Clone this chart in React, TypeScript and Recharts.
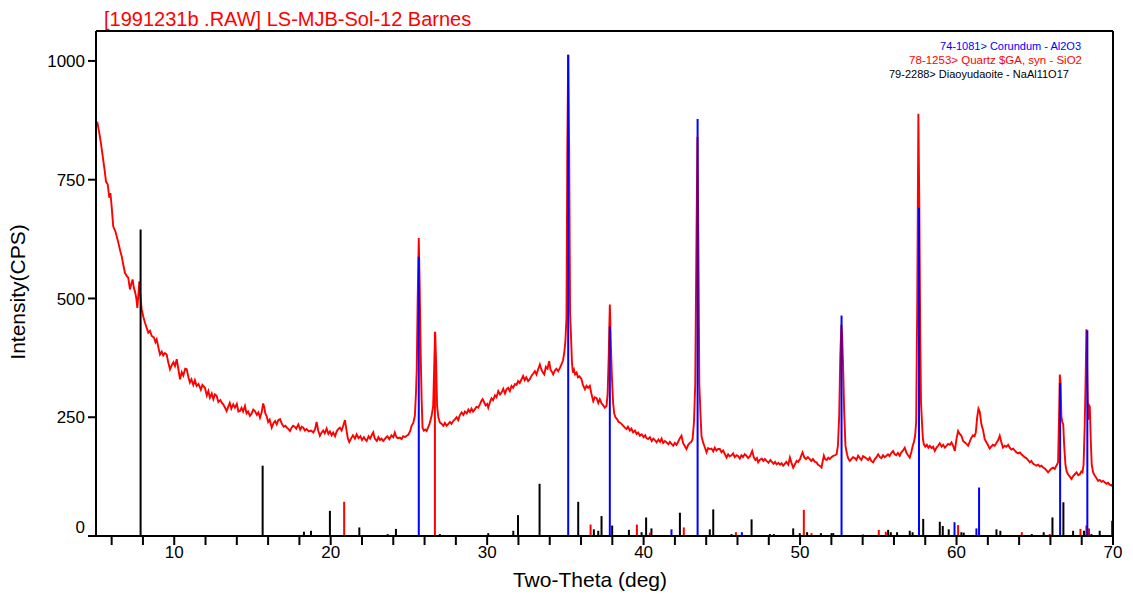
import { LineChart, Line, XAxis, YAxis, ReferenceLine } from 'recharts';

// measured scan: [two-theta (deg), intensity (CPS)]
const scanPoints: [number, number][] = [
  [5.0, 862], [5.1, 868], [5.2, 850], [5.3, 830], [5.43, 799], [5.55, 770], [5.64, 746], [5.75, 740],
  [5.85, 712], [5.92, 722], [6.0, 694], [6.1, 652], [6.25, 640], [6.43, 617], [6.55, 600], [6.64, 589],
  [6.75, 570], [6.85, 554], [6.95, 548], [7.06, 544], [7.17, 519], [7.25, 530], [7.34, 540], [7.42, 522],
  [7.49, 515], [7.58, 500], [7.64, 480], [7.7, 505], [7.77, 536], [7.85, 500], [7.92, 477], [8.02, 462],
  [8.13, 449], [8.22, 440], [8.34, 428], [8.45, 432], [8.56, 421], [8.7, 418], [8.8, 408], [8.88, 414],
  [9.0, 395], [9.09, 382], [9.2, 388], [9.3, 380], [9.4, 385], [9.52, 382], [9.62, 365], [9.73, 351],
  [9.85, 360], [9.95, 366], [10.05, 358], [10.16, 372], [10.27, 350], [10.37, 330], [10.48, 345], [10.58, 338],
  [10.7, 352], [10.8, 351], [10.9, 335], [11.0, 323], [11.1, 330], [11.22, 318], [11.32, 328], [11.43, 316],
  [11.55, 320], [11.7, 308], [11.8, 318], [11.96, 312], [12.08, 296], [12.18, 305], [12.28, 291], [12.4, 300],
  [12.5, 288], [12.6, 298], [12.71, 295], [12.82, 282], [12.95, 286], [13.05, 280], [13.13, 277], [13.25, 270],
  [13.35, 263], [13.45, 272], [13.55, 280], [13.65, 268], [13.77, 277], [13.88, 270], [14.0, 278], [14.1, 262],
  [14.2, 263], [14.3, 270], [14.4, 262], [14.52, 274], [14.62, 258], [14.72, 262], [14.84, 253], [14.95, 258],
  [15.05, 266], [15.16, 263], [15.28, 255], [15.38, 260], [15.48, 249], [15.6, 262], [15.68, 279], [15.75, 272],
  [15.82, 258], [15.9, 253], [16.0, 240], [16.1, 245], [16.23, 228], [16.35, 238], [16.45, 242], [16.55, 235],
  [16.65, 244], [16.76, 246], [16.88, 236], [17.0, 230], [17.1, 232], [17.2, 228], [17.3, 225], [17.4, 221],
  [17.5, 228], [17.6, 232], [17.7, 230], [17.8, 226], [17.93, 235], [18.05, 224], [18.15, 230], [18.25, 228],
  [18.35, 222], [18.46, 225], [18.6, 220], [18.75, 222], [18.89, 218], [19.0, 225], [19.1, 240], [19.2, 222],
  [19.31, 211], [19.42, 218], [19.52, 222], [19.62, 216], [19.74, 226], [19.85, 215], [19.95, 220], [20.06, 212],
  [20.16, 218], [20.28, 210], [20.38, 220], [20.48, 225], [20.59, 228], [20.7, 222], [20.8, 232], [20.91, 244],
  [21.0, 225], [21.1, 205], [21.19, 198], [21.3, 205], [21.42, 212], [21.55, 205], [21.66, 214], [21.78, 206],
  [21.9, 210], [22.0, 202], [22.12, 208], [22.2, 204], [22.3, 200], [22.42, 210], [22.52, 205], [22.62, 212],
  [22.72, 218], [22.82, 205], [22.95, 200], [23.05, 208], [23.15, 202], [23.25, 205], [23.36, 200], [23.5, 206],
  [23.62, 210], [23.75, 204], [23.88, 212], [24.0, 208], [24.1, 218], [24.2, 208], [24.3, 206], [24.42, 207],
  [24.53, 204], [24.63, 210], [24.75, 208], [24.85, 211], [24.96, 213], [25.07, 220], [25.17, 232], [25.28, 238],
  [25.38, 253], [25.45, 300], [25.5, 351], [25.56, 500], [25.63, 627], [25.69, 520], [25.75, 386], [25.81, 290],
  [25.87, 228], [25.95, 222], [26.05, 224], [26.13, 221], [26.22, 228], [26.32, 236], [26.45, 253], [26.55, 274],
  [26.62, 360], [26.68, 429], [26.74, 360], [26.8, 274], [26.88, 250], [26.98, 239], [27.1, 236], [27.2, 232],
  [27.3, 238], [27.41, 232], [27.52, 236], [27.62, 240], [27.72, 236], [27.83, 242], [27.95, 246], [28.05, 250],
  [28.15, 244], [28.25, 254], [28.37, 260], [28.48, 255], [28.58, 262], [28.7, 258], [28.8, 266], [28.9, 261],
  [29.0, 268], [29.1, 262], [29.2, 266], [29.32, 272], [29.43, 270], [29.55, 278], [29.63, 284], [29.71, 288],
  [29.8, 282], [29.9, 275], [30.0, 278], [30.07, 270], [30.18, 282], [30.28, 290], [30.38, 286], [30.5, 296],
  [30.6, 292], [30.71, 305], [30.82, 298], [30.92, 302], [31.03, 310], [31.14, 300], [31.24, 309], [31.34, 312],
  [31.45, 305], [31.56, 316], [31.66, 312], [31.78, 320], [31.88, 318], [31.98, 326], [32.08, 322], [32.2, 330],
  [32.3, 337], [32.4, 328], [32.5, 334], [32.62, 326], [32.73, 330], [32.85, 338], [32.95, 342], [33.05, 347],
  [33.15, 340], [33.27, 352], [33.37, 361], [33.47, 350], [33.56, 344], [33.65, 340], [33.75, 356], [33.86, 352],
  [33.96, 368], [34.05, 350], [34.15, 345], [34.22, 340], [34.32, 348], [34.42, 352], [34.54, 347], [34.65, 354],
  [34.75, 361], [34.85, 370], [34.93, 386], [35.0, 410], [35.07, 460], [35.12, 800], [35.18, 1013], [35.24, 820],
  [35.3, 470], [35.36, 420], [35.42, 365], [35.48, 344], [35.55, 350], [35.62, 340], [35.72, 344], [35.8, 334],
  [35.9, 336], [36.03, 330], [36.12, 318], [36.25, 309], [36.35, 316], [36.45, 312], [36.56, 316], [36.66, 300],
  [36.78, 284], [36.88, 292], [37.0, 290], [37.1, 280], [37.2, 288], [37.3, 280], [37.4, 276], [37.52, 270],
  [37.63, 274], [37.7, 300], [37.77, 380], [37.84, 487], [37.91, 400], [37.97, 337], [38.05, 280], [38.12, 258],
  [38.2, 250], [38.3, 246], [38.4, 240], [38.48, 239], [38.58, 236], [38.7, 232], [38.8, 228], [38.91, 225],
  [39.0, 230], [39.12, 222], [39.22, 226], [39.33, 218], [39.45, 222], [39.55, 215], [39.65, 218], [39.76, 211],
  [39.88, 214], [40.0, 208], [40.1, 212], [40.18, 206], [40.29, 204], [40.4, 208], [40.52, 200], [40.62, 205],
  [40.72, 202], [40.83, 197], [40.95, 203], [41.05, 198], [41.15, 205], [41.25, 196], [41.36, 200], [41.47, 197],
  [41.58, 193], [41.68, 198], [41.78, 194], [41.89, 190], [42.0, 196], [42.1, 192], [42.2, 198], [42.32, 206],
  [42.42, 211], [42.52, 196], [42.62, 190], [42.74, 183], [42.85, 192], [42.95, 196], [43.05, 198], [43.13, 204],
  [43.22, 240], [43.3, 320], [43.37, 600], [43.44, 840], [43.5, 620], [43.56, 320], [43.63, 260], [43.7, 210],
  [43.8, 197], [43.9, 188], [44.02, 176], [44.12, 185], [44.23, 183], [44.34, 184], [44.45, 178], [44.55, 186],
  [44.65, 180], [44.76, 183], [44.87, 183], [44.98, 176], [45.08, 180], [45.2, 172], [45.3, 165], [45.4, 172],
  [45.5, 168], [45.62, 170], [45.72, 174], [45.82, 166], [45.95, 170], [46.05, 168], [46.15, 163], [46.25, 170],
  [46.35, 166], [46.46, 172], [46.57, 169], [46.68, 164], [46.8, 168], [46.94, 179], [47.05, 165], [47.15, 160],
  [47.24, 164], [47.32, 155], [47.42, 160], [47.55, 163], [47.65, 158], [47.75, 162], [47.86, 158], [47.98, 154],
  [48.1, 160], [48.2, 156], [48.3, 152], [48.4, 156], [48.5, 151], [48.62, 154], [48.72, 150], [48.82, 153],
  [48.92, 148], [49.02, 152], [49.12, 156], [49.25, 150], [49.35, 165], [49.45, 154], [49.56, 144], [49.66, 150],
  [49.78, 158], [49.88, 156], [50.0, 162], [50.08, 170], [50.16, 176], [50.26, 166], [50.38, 162], [50.5, 166],
  [50.62, 162], [50.72, 158], [50.82, 162], [50.95, 156], [51.05, 155], [51.15, 150], [51.25, 148], [51.37, 144],
  [51.45, 158], [51.52, 169], [51.6, 162], [51.7, 160], [51.8, 165], [51.9, 162], [52.0, 166], [52.1, 168],
  [52.22, 170], [52.33, 172], [52.42, 190], [52.5, 253], [52.57, 380], [52.64, 445], [52.69, 420], [52.75, 358],
  [52.82, 260], [52.9, 190], [53.0, 172], [53.08, 163], [53.18, 158], [53.28, 162], [53.38, 166], [53.5, 164],
  [53.6, 160], [53.71, 169], [53.82, 164], [53.92, 160], [54.02, 168], [54.12, 166], [54.25, 163], [54.35, 160],
  [54.45, 165], [54.55, 158], [54.67, 155], [54.78, 162], [54.88, 166], [54.99, 172], [55.1, 166], [55.2, 164],
  [55.3, 170], [55.4, 166], [55.52, 169], [55.62, 172], [55.72, 168], [55.82, 174], [55.94, 179], [56.05, 172],
  [56.15, 170], [56.25, 175], [56.37, 169], [56.47, 176], [56.58, 180], [56.69, 186], [56.8, 175], [56.9, 170],
  [57.01, 165], [57.12, 178], [57.2, 190], [57.27, 197], [57.35, 210], [57.42, 240], [57.49, 500], [57.56, 889],
  [57.62, 700], [57.68, 420], [57.73, 280], [57.79, 240], [57.85, 205], [57.91, 193], [58.0, 188], [58.1, 192],
  [58.2, 186], [58.29, 190], [58.4, 185], [58.5, 188], [58.61, 179], [58.72, 186], [58.82, 190], [58.93, 195],
  [59.05, 188], [59.15, 192], [59.26, 186], [59.36, 190], [59.46, 194], [59.58, 192], [59.68, 197], [59.78, 190],
  [59.89, 179], [60.0, 205], [60.1, 221], [60.2, 215], [60.31, 211], [60.42, 200], [60.53, 197], [60.64, 194],
  [60.74, 190], [60.84, 198], [60.95, 207], [61.05, 212], [61.15, 210], [61.23, 218], [61.32, 250], [61.4, 268],
  [61.48, 262], [61.59, 235], [61.7, 222], [61.8, 204], [61.9, 198], [62.0, 192], [62.12, 184], [62.22, 188],
  [62.32, 192], [62.44, 190], [62.55, 196], [62.66, 202], [62.76, 211], [62.86, 198], [62.97, 186], [63.08, 190],
  [63.18, 188], [63.3, 192], [63.4, 186], [63.5, 182], [63.62, 184], [63.72, 180], [63.83, 176], [63.94, 174],
  [64.05, 176], [64.15, 172], [64.25, 169], [64.35, 166], [64.46, 164], [64.57, 160], [64.68, 155], [64.78, 158],
  [64.9, 152], [65.0, 150], [65.11, 148], [65.22, 150], [65.32, 146], [65.43, 148], [65.53, 144], [65.64, 142],
  [65.75, 138], [65.85, 134], [65.96, 138], [66.06, 142], [66.18, 144], [66.28, 141], [66.38, 148], [66.49, 155],
  [66.55, 250], [66.6, 340], [66.65, 322], [66.7, 252], [66.76, 240], [66.82, 235], [66.88, 190], [66.96, 150],
  [67.03, 137], [67.12, 130], [67.22, 126], [67.35, 120], [67.45, 126], [67.56, 130], [67.67, 134], [67.78, 128],
  [67.88, 130], [67.98, 136], [68.05, 134], [68.12, 150], [68.19, 230], [68.25, 330], [68.3, 435], [68.36, 330],
  [68.41, 245], [68.47, 275], [68.52, 272], [68.58, 200], [68.64, 150], [68.73, 134], [68.82, 128], [68.94, 122],
  [69.05, 116], [69.15, 118], [69.26, 114], [69.36, 116], [69.47, 113], [69.58, 110], [69.68, 112], [69.79, 108],
  [69.9, 106], [70.0, 110],
];

// reference patterns: [two-theta, stick height]
const corundumSticks: [number, number][] = [
  [25.63, 588], [35.18, 1013], [37.84, 441], [41.78, 14], [43.45, 878], [46.28, 8], [52.65, 464],
  [57.6, 691], [59.87, 29], [61.27, 16], [61.44, 102], [66.62, 322], [68.36, 433],
];
const quartzSticks: [number, number][] = [
  [20.86, 72], [26.66, 430], [36.61, 24], [39.57, 24], [40.4, 7], [42.57, 18], [45.9, 8], [50.24, 55],
  [50.73, 6], [55.03, 13], [55.48, 9], [60.1, 23], [64.17, 8], [65.96, 4], [67.92, 15], [68.3, 22], [68.47, 16],
];
const diaoyudaoiteSticks: [number, number][] = [
  [7.85, 645], [15.65, 148], [18.29, 9], [18.74, 11], [19.95, 53], [21.83, 18], [23.64, 4], [24.17, 15],
  [26.98, 4], [30.07, 6], [31.67, 11], [31.97, 44], [33.35, 110], [35.82, 72], [36.82, 14], [37.1, 11],
  [37.31, 42], [37.99, 22], [39.06, 13], [39.87, 8], [40.16, 39], [40.5, 16], [42.32, 49], [44.23, 14],
  [44.45, 56], [45.62, 4], [46.9, 35], [48.07, 4], [48.32, 4], [49.56, 16], [49.98, 6], [50.45, 8],
  [51.33, 6], [52.01, 6], [52.12, 6], [54.03, 3], [55.63, 13], [55.8, 8], [56.2, 8], [57.01, 11],
  [57.19, 8], [57.87, 36], [58.93, 30], [59.12, 21], [59.5, 14], [60.31, 8], [60.46, 7], [62.55, 14],
  [62.8, 11], [64.81, 4], [65.57, 8], [66.13, 39], [66.83, 71], [67.45, 11], [68.15, 11], [68.62, 4],
  [69.15, 11], [69.95, 32],
];

const xTicks = [6, 8, 10, 12, 14, 16, 18, 20, 22, 24, 26, 28, 30, 32, 34, 36, 38, 40, 42, 44, 46, 48, 50, 52, 54, 56, 58, 60, 62, 64, 66, 68, 70];
const yTicks = [0, 250, 500, 750, 1000];
const X_MIN = 5;
const X_MAX = 70;
const Y_MAX = 1063;

const legendItems = [
  { label: '74-1081> Corundum - Al2O3', color: '#0000ff' },
  { label: '78-1253> Quartz $GA, syn - SiO2', color: '#ff0000' },
  { label: '79-2288> Diaoyudaoite - NaAl11O17', color: '#000000' },
];

const FONT = '"Liberation Sans", Arial, sans-serif';

const YTick = ({ x, y, payload }: any) => (
  <text
    x={x}
    y={payload.value === 0 ? y - 9 : y}
    dy="0.36em"
    textAnchor="end"
    fontSize={17}
    fontFamily={FONT}
    fill="#000"
  >
    {payload.value}
  </text>
);

const stickLayer = (sticks: [number, number][], color: string, key: string) =>
  sticks.map(([pos, h], i) => (
    <ReferenceLine
      key={`${key}-${i}`}
      segment={[{ x: pos, y: 0 }, { x: pos, y: h }]}
      stroke={color}
      strokeWidth={2}
      ifOverflow="visible"
    />
  ));

export default function App() {
  const data = scanPoints.map(([x, y]) => ({ x, y }));

  return (
    <div style={{ position: 'absolute', left: 0, top: 0, width: 1133, height: 596, fontFamily: FONT, background: '#fff' }}>
      <LineChart width={1133} height={596} data={data} margin={{ top: 31, right: 20, bottom: 0, left: 0 }}>
        <XAxis
          dataKey="x"
          type="number"
          domain={[X_MIN, X_MAX]}
          ticks={xTicks}
          tickFormatter={(v: number) => (v % 10 === 0 ? String(v) : '')}
          height={60}
          tickSize={9}
          tickMargin={1}
          stroke="#000"
          strokeWidth={2}
          tick={{ fontSize: 17, fill: '#000', fontFamily: FONT }}
          allowDataOverflow
        />
        <YAxis
          type="number"
          domain={[0, Y_MAX]}
          ticks={yTicks}
          width={96}
          tickSize={8}
          tickMargin={3}
          stroke="#000"
          strokeWidth={2}
          tick={<YTick />}
          allowDataOverflow
        />
        <Line dataKey="y" type="linear" stroke="#ff0000" strokeWidth={1.9} dot={false} isAnimationActive={false} />
        {stickLayer(diaoyudaoiteSticks, '#000000', 'd')}
        {stickLayer(quartzSticks, '#ff0000', 'q')}
        {stickLayer(corundumSticks, '#0000ff', 'c')}
        {/* plot frame: top and right edges */}
        <ReferenceLine y={Y_MAX} stroke="#000" strokeWidth={2} ifOverflow="visible" />
        <ReferenceLine x={X_MAX} stroke="#000" strokeWidth={2} ifOverflow="visible" />
      </LineChart>

      <div style={{ position: 'absolute', left: 104, top: 9, fontSize: 20, lineHeight: 1, color: '#ff0000', whiteSpace: 'nowrap' }}>
        [1991231b .RAW] LS-MJB-Sol-12 Barnes
      </div>

      <div style={{ position: 'absolute', right: 1133 - 1081, top: 39, fontSize: 11, lineHeight: '14px', color: legendItems[0].color, whiteSpace: 'nowrap' }}>
        {legendItems[0].label}
      </div>
      <div style={{ position: 'absolute', right: 1133 - 1082, top: 53, fontSize: 11.5, lineHeight: '14px', color: legendItems[1].color, whiteSpace: 'nowrap' }}>
        {legendItems[1].label}
      </div>
      <div style={{ position: 'absolute', left: 889, top: 67, fontSize: 11, lineHeight: '14px', color: legendItems[2].color, whiteSpace: 'nowrap' }}>
        {legendItems[2].label}
      </div>

      <div style={{ position: 'absolute', left: 0, width: 1180, top: 569, fontSize: 21, lineHeight: 1, textAlign: 'center', color: '#000' }}>
        Two-Theta (deg)
      </div>
      <div
        style={{
          position: 'absolute',
          left: 18 - 100,
          top: 292 - 11,
          width: 200,
          fontSize: 21,
          lineHeight: '22px',
          textAlign: 'center',
          color: '#000',
          transform: 'rotate(-90deg)',
        }}
      >
        Intensity(CPS)
      </div>
    </div>
  );
}
